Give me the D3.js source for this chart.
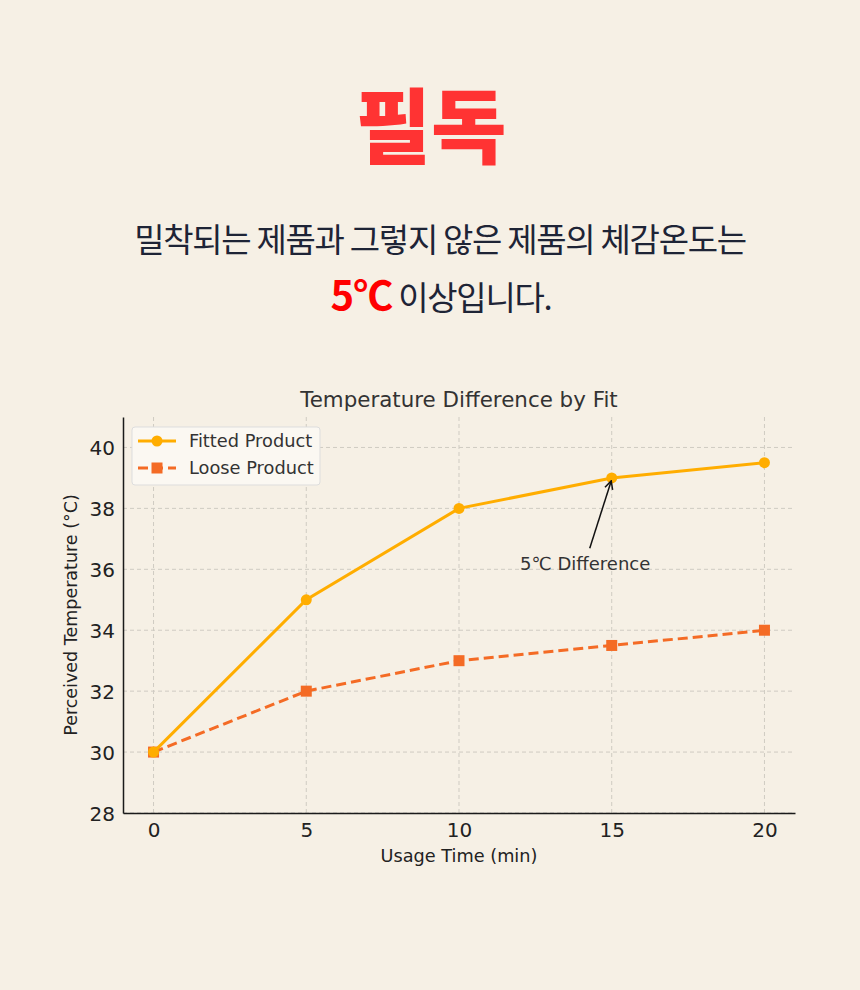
<!DOCTYPE html>
<html>
<head>
<meta charset="utf-8">
<script src="https://cdn.jsdelivr.net/npm/d3@7"></script>
<style>
  html, body { margin: 0; padding: 0; background: #f6f0e5; }
  svg { display: block; }
</style>
</head>
<body>
<div id="chart"></div>
<script>
const times = [0, 5, 10, 15, 20];
const fitted = [30, 35, 38, 39, 39.5];
const loose = [30, 32, 33, 33.5, 34];
const xTicks = [0, 5, 10, 15, 20];
const yTicks = [28, 30, 32, 34, 36, 38, 40];
const seriesNames = ["Fitted Product", "Loose Product"];

const width = 860;
const height = 990;
const bg = "#f6f0e5";
const fittedColor = "#ffad00";
const looseColor = "#f46b25";
const textColor = "#333333";

const svg = d3.select("#chart").append("svg")
    .attr("width", width)
    .attr("height", height);

svg.append("rect").attr("width", width).attr("height", height).attr("fill", bg);

// heading
svg.append("text")
    .attr("x", 431).attr("y", 157)
    .attr("text-anchor", "middle")
    .attr("font-family", "'Noto Sans CJK KR'")
    .attr("font-weight", 900)
    .attr("font-size", 82)
    .attr("fill", "#ff3333")
    .text("필독");

svg.append("text")
    .attr("x", 440).attr("y", 252)
    .attr("text-anchor", "middle")
    .attr("font-family", "'Noto Sans CJK KR'")
    .attr("font-size", 33)
    .attr("letter-spacing", "-1.3px")
    .attr("fill", "#1e2436")
    .text("밀착되는 제품과 그렇지 않은 제품의 체감온도는");

const line2 = svg.append("text")
    .attr("x", 441).attr("y", 310)
    .attr("text-anchor", "middle")
    .attr("font-family", "'Noto Sans CJK KR'")
    .attr("font-size", 33)
    .attr("letter-spacing", "-1.3px")
    .attr("fill", "#1e2436");
line2.append("tspan").attr("fill", "#ff0000").attr("font-weight", 700)
    .attr("font-size", 40).attr("letter-spacing", "-1px").text("5℃");
line2.append("tspan").text(" 이상입니다.");

// chart area
const m = {left: 123, right: 795, top: 417, bottom: 813};

const x = d3.scaleLinear().domain([-1, 21]).range([m.left, m.right]);
const y = d3.scaleLinear().domain([28, 41]).range([m.bottom, m.top]);

const font = "'DejaVu Sans', sans-serif";

// grid
const grid = svg.append("g")
    .attr("stroke", "#cfcbc2")
    .attr("stroke-width", 1)
    .attr("stroke-dasharray", "4,3");
grid.selectAll(".vx").data(xTicks).join("line")
    .attr("x1", d => x(d)).attr("x2", d => x(d))
    .attr("y1", m.top).attr("y2", m.bottom);
grid.selectAll(".hy").data(yTicks).join("line")
    .attr("x1", m.left).attr("x2", m.right)
    .attr("y1", d => y(d)).attr("y2", d => y(d));

// axes
const xAxis = svg.append("g")
    .attr("transform", `translate(0,${m.bottom})`)
    .call(d3.axisBottom(x).tickValues(xTicks).tickSize(0).tickPadding(7));
const yAxis = svg.append("g")
    .attr("transform", `translate(${m.left},0)`)
    .call(d3.axisLeft(y).tickValues(yTicks).tickSize(0).tickPadding(8));

[xAxis, yAxis].forEach(a => {
  a.select(".domain").attr("stroke", "#1a1a1a").attr("stroke-width", 1.5);
  a.selectAll("text")
      .attr("font-family", font)
      .attr("font-size", 20)
      .attr("fill", "#222");
});
xAxis.selectAll("text").attr("dy", "0.85em");
yAxis.selectAll("text").attr("dy", "0.36em");

// title & labels
svg.append("text")
    .attr("x", (m.left + m.right) / 2).attr("y", 407)
    .attr("text-anchor", "middle")
    .attr("font-family", font).attr("font-size", 21.4)
    .attr("fill", textColor)
    .text("Temperature Difference by Fit");

svg.append("text")
    .attr("x", (m.left + m.right) / 2).attr("y", 862)
    .attr("text-anchor", "middle")
    .attr("font-family", font).attr("font-size", 17.7)
    .attr("fill", "#222")
    .text("Usage Time (min)");

svg.append("text")
    .attr("transform", `translate(77,${(m.top + m.bottom) / 2}) rotate(-90)`)
    .attr("text-anchor", "middle")
    .attr("font-family", font).attr("font-size", 17.5)
    .attr("fill", "#222")
    .text("Perceived Temperature (°C)");

// lines
const line = d3.line().x((d, i) => x(times[i])).y(d => y(d));

svg.append("path")
    .datum(loose)
    .attr("d", line)
    .attr("fill", "none")
    .attr("stroke", looseColor)
    .attr("stroke-width", 3)
    .attr("stroke-dasharray", "10,5");
svg.selectAll(".sq").data(loose).join("rect")
    .attr("x", (d, i) => x(times[i]) - 5.5)
    .attr("y", d => y(d) - 5.5)
    .attr("width", 11).attr("height", 11)
    .attr("fill", looseColor);

svg.append("path")
    .datum(fitted)
    .attr("d", line)
    .attr("fill", "none")
    .attr("stroke", fittedColor)
    .attr("stroke-width", 3);
svg.selectAll(".dot").data(fitted).join("circle")
    .attr("cx", (d, i) => x(times[i]))
    .attr("cy", d => y(d))
    .attr("r", 5.5)
    .attr("fill", fittedColor);

// annotation
svg.append("defs").append("marker")
    .attr("id", "arrow")
    .attr("viewBox", "0 0 10 10")
    .attr("refX", 9).attr("refY", 5)
    .attr("markerWidth", 10).attr("markerHeight", 10)
    .attr("markerUnits", "userSpaceOnUse")
    .attr("orient", "auto")
  .append("path")
    .attr("d", "M1,1 L9,5 L1,9")
    .attr("fill", "none")
    .attr("stroke", "#111")
    .attr("stroke-width", 1.5);

svg.append("line")
    .attr("x1", x(14.28)).attr("y1", y(36.69))
    .attr("x2", x(15) - 0.5).attr("y2", y(39) + 3)
    .attr("stroke", "#111")
    .attr("stroke-width", 1.5)
    .attr("marker-end", "url(#arrow)");

svg.append("text")
    .attr("x", x(12)).attr("y", y(36) + 1)
    .attr("font-family", font).attr("font-size", 18)
    .attr("fill", textColor)
    .text("5℃ Difference");

// legend
const legend = svg.append("g").attr("transform", "translate(132,427)");
legend.append("rect")
    .attr("width", 188).attr("height", 58).attr("rx", 3)
    .attr("fill", "#fbf8f2").attr("stroke", "#dddddd");
const entries = [
  {name: seriesNames[0], color: fittedColor, dash: null, shape: "circle"},
  {name: seriesNames[1], color: looseColor, dash: "10,5", shape: "square"}
];
const le = legend.selectAll(".le").data(entries).join("g")
    .attr("transform", (d, i) => `translate(0,${14 + i * 27})`);
le.append("line")
    .attr("x1", 6).attr("x2", 44)
    .attr("stroke", d => d.color).attr("stroke-width", 3)
    .attr("stroke-dasharray", d => d.dash);
le.filter(d => d.shape === "circle").append("circle")
    .attr("cx", 25).attr("r", 5.5).attr("fill", d => d.color);
le.filter(d => d.shape === "square").append("rect")
    .attr("x", 19.5).attr("y", -5.5).attr("width", 11).attr("height", 11)
    .attr("fill", d => d.color);
le.append("text")
    .attr("x", 57).attr("dy", "0.36em")
    .attr("font-family", font).attr("font-size", 17.8)
    .attr("fill", textColor)
    .text(d => d.name);
</script>
</body>
</html>
